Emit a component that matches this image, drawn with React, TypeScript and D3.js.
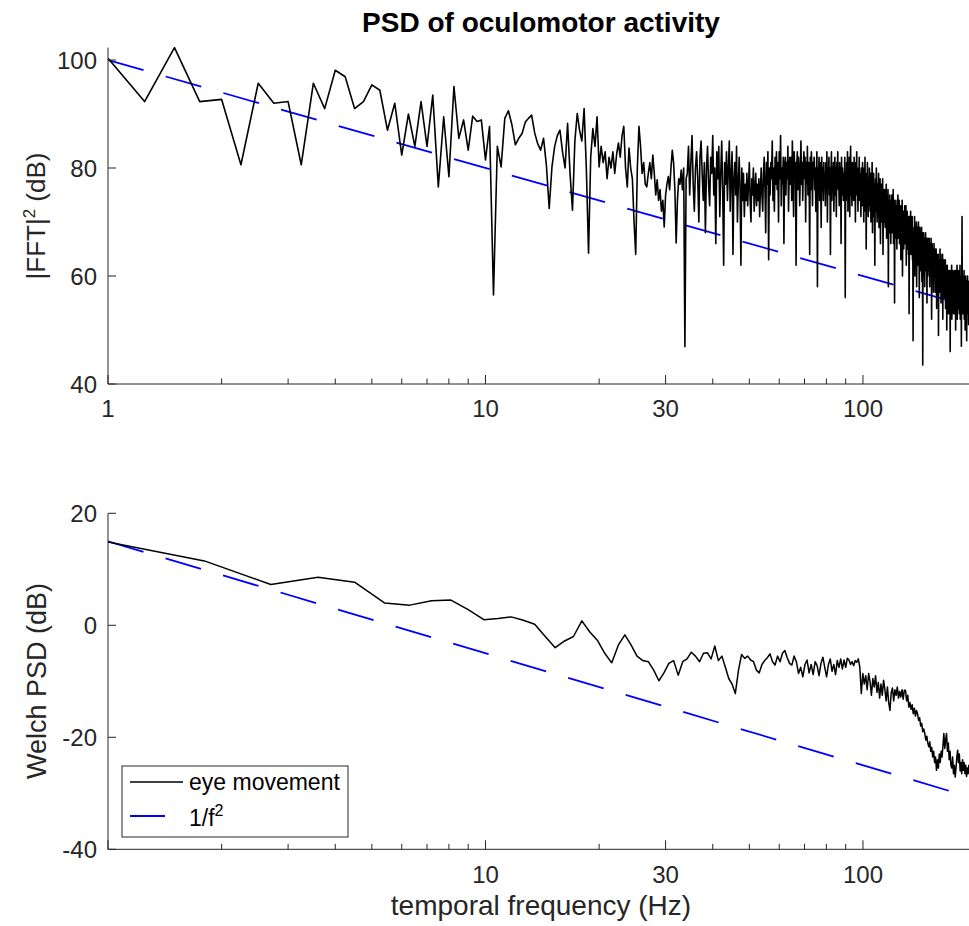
import React from 'react';
import * as d3 from 'd3';

// ---------- DATA ----------
// |FFT|^2 in dB, frequency grid starts at 1 Hz, step 0.25 Hz
const FFT_START = 1;
const FFT_STEP = 0.25;
const fftLow = [
  100.3, 92.3, 102.3, 92.3, 92.7, 80.6, 95.7, 92, 92.3, 80.6, 95.7, 91,
  98.1, 96.9, 91, 92.3, 95.4, 94.4, 87, 92, 82.4, 90, 84, 92.3, 84, 93.5,
  76.5, 89.5, 78.4, 95.1, 85.5, 88.9, 83.3, 89.6, 88.6, 88.9, 81.5, 87.7,
  56.5, 84, 80.2, 89.2, 90.6, 88, 84.3,
];
const fftMid = [
  85.5, 86.4, 88.5, 89.2, 89.8, 86.5, 84.5, 83.3, 85.5, 80.5, 72.5, 80.2, 84, 86, 87, 83, 80, 88.3, 79, 72.2,
  85, 90.1, 87, 85, 91, 80, 64.2, 82, 87.3, 84, 89.5, 80.2, 84, 81, 83, 78, 82, 80, 83, 79,
  82.5, 84.6, 82, 86, 87.7, 80, 76.5, 83.7, 80,
  78, 70, 64, 80, 87.7, 84, 79, 81, 77, 76.5, 79, 81, 78, 82.4, 79, 75, 77.8, 74, 76, 72,
  74, 69.1, 75, 77, 78.4, 76, 80, 83.3, 81, 76, 66.1, 74, 78, 77, 79.6, 76, 80, 46.9, 78,
];
const fftHigh = [
  79, 84, 75, 81, 86, 77, 72, 80, 83, 78, 70, 82, 85, 79, 74, 81, 68, 80, 84, 77,
  73, 82, 79, 86, 75, 80, 66, 83, 78, 84, 71, 79, 85, 76, 62, 81, 77, 83, 74, 80,
  85, 72, 79, 83, 64, 78, 81, 75, 84, 70, 77, 82, 76, 62, 80, 74, 79, 71, 77, 74,
  79, 73, 77, 81, 74, 70, 78, 75, 80, 72, 76, 79, 73, 77, 74, 78, 71, 76, 80, 75,
  72, 79, 82, 76, 68, 81, 77, 83, 63, 80, 75, 81, 78, 85, 74, 80, 72, 82, 77, 83,
  76, 81, 70, 83, 78, 86, 73, 80, 77, 82, 66, 80, 82, 75, 81, 78, 84, 72, 79, 82,
  77, 82, 74, 85, 79, 71, 83, 78, 81, 62, 80, 83, 76, 82, 79, 73, 80, 85, 77, 81,
  74, 80, 83, 78, 82, 70, 81, 77, 84, 75, 81, 79, 64, 82, 76, 83, 80, 73, 81, 78,
  82, 76, 80, 72, 79, 83, 58, 80, 77, 82, 74, 81, 78, 69, 82, 76, 80, 74, 81, 77,
  79, 73, 81, 76, 83, 70, 80, 77, 82, 75, 80, 64, 79, 83, 74, 80, 77, 81, 72, 79,
  82, 75, 80, 71, 81, 78, 83, 76, 79, 73, 81, 77, 80, 66, 82, 75, 80, 78, 74, 79,
  76, 82, 56, 79, 74, 81, 77, 83, 72, 80, 76, 82, 71, 79, 84, 75, 78, 73, 81, 77,
  80, 74, 82, 76, 79, 70, 81, 77, 83, 75, 78, 72, 80, 76, 82, 74, 79, 77, 71, 80,
  77, 73, 81, 75, 79, 70, 80, 76, 82, 72, 78, 65, 79, 74, 81, 76, 71, 78, 73, 80,
  76, 72, 79, 70, 77, 74, 81, 68, 76, 73, 79, 71, 77, 62, 75, 78, 72, 80, 74, 70,
  77, 71, 75, 79, 69, 76, 73, 78, 66, 74, 77, 70, 75, 72, 78, 64, 73, 76, 70, 74,
  76, 69, 74, 71, 77, 67, 73, 75, 70, 76, 58, 72, 74, 68, 75, 71, 73, 66, 74, 70,
  75, 68, 73, 70, 76, 66, 72, 74, 55, 71, 73, 67, 74, 69, 72, 65, 73, 70, 75, 67,
  72, 68, 74, 66, 71, 69, 73, 63, 70, 72, 67, 74, 60, 70, 68, 72, 65, 71, 69, 73,
  66, 71, 68, 73, 62, 70, 67, 72, 65, 69, 71, 64, 70, 53, 68, 71, 66, 69, 72, 64,
  68, 69, 66, 71, 63, 68, 48, 62, 67, 69, 65, 71, 60, 67, 64, 69, 66, 70, 58, 66,
  69, 64, 68, 62, 70, 65, 67, 56, 66, 69, 63, 68, 61, 67, 65, 69, 59, 66, 68, 43.5,
  66, 62, 68, 60, 65, 67, 58, 66, 63, 68, 61, 65, 64, 67, 55, 64, 66, 60, 67, 62,
  65, 61, 67, 63, 58, 66, 62, 65, 60, 67, 64, 52, 63, 66, 59, 65, 61, 64, 57, 63,
  66, 60, 64, 62, 65, 57, 63, 60, 65, 61, 54, 64, 59, 63, 62, 58, 64, 49, 61, 63,
  60, 63, 57, 65, 61, 58, 64, 55, 62, 60, 63, 56, 61, 64, 52, 60, 62, 58, 63, 59,
  62, 56, 61, 59, 63, 54, 60, 62, 57, 61, 50, 59, 62, 55, 60, 58, 61, 53, 60, 57,
  61, 55, 60, 58, 46, 59, 61, 54, 60, 57, 62, 52, 59, 56, 61, 55, 58, 60, 53, 59,
  57, 61, 53, 60, 58, 55, 61, 50, 59, 57, 60, 54, 58, 62, 52, 59, 56, 60, 54, 58,
  61, 55, 59, 53, 60, 57, 62, 52, 58, 60, 55, 59, 47, 57, 60, 71, 58, 56, 60, 53,
  58, 60, 54, 57, 61, 52, 59, 56, 58, 50, 57, 60, 53, 58, 55, 59, 48, 57, 54, 58,
  60, 53, 57, 55, 59, 51, 56, 58, 54, 57, 52, 58, 55, 57, 50, 56, 58, 53, 57, 55,
];
const fftPower = [...fftLow, ...fftMid, ...fftHigh];
const fftFreq = fftPower.map((_, i) => FFT_START + i * FFT_STEP);

// Welch PSD in dB, frequency grid k * 0.9 Hz
const WELCH_STEP = 0.9;
const welchPower = [
  15.5, 11.5, 7.3, 8.6, 7.7, 4.0, 3.6, 4.4, 4.5, 2.8,
  1.0, 1.2, 1.5, 0.9, 0.2, -2.0, -4.0, -2.8, -2.0, 0.8,
  -1.2, -2.7, -5.0, -6.7, -3.5, -1.7, -3.5, -5.5, -6.3, -6.5,
  -8.0, -9.9, -8.5, -6.8, -6.3, -8.9, -6.5, -6.0, -4.8, -5.5,
  -6.5, -5.0, -4.9, -6.0, -3.7, -6.3, -5.5, -7.5, -9.5, -10.5,
  -12.2, -8.0, -5.2, -5.9, -5.5, -6.2, -6.5, -8.0, -8.5, -7.0,
  -6.3, -5.8, -5.1, -6.5, -7.1, -5.5, -6.5, -5.0, -4.5, -5.8,
  -6.8, -7.1, -5.5, -6.5, -8.6, -7.5, -9.2, -7.0, -6.2, -8.5,
  -7.0, -8.8, -6.5, -7.2, -9.0, -6.8, -5.7, -7.5, -9.2, -7.0,
  -6.0, -8.2, -7.0, -8.8, -6.3, -7.5, -6.0, -7.8, -6.2, -7.5,
  -5.9, -6.2, -7.0, -6.5, -7.2, -6.3, -6.6, -6.0, -7.5, -12.2,
  -8.6, -10.5, -9.0, -11.5, -8.6, -10.0, -12.5, -9.5, -11.0, -9.0,
  -12.0, -10.2, -13.0, -10.5, -12.5, -9.8, -11.5, -13.5, -11.0, -13.8,
  -15.2, -12.0, -11.2, -13.5, -11.5, -12.5, -11.0, -13.0, -11.8, -12.8,
  -11.5, -13.2, -11.6, -11.6, -13.5, -12.5, -14.6, -13.8, -15.0, -14.2,
  -15.8, -14.8, -16.2, -15.2, -15.8, -17.0, -16.5, -18.0, -17.5, -19.0,
  -18.5, -19.3, -20.5, -19.8, -21.0, -21.7, -20.8, -22.5, -21.8, -23.5,
  -22.5, -24.5, -23.5, -25.9, -24.0, -25.5, -23.0, -24.5, -22.5, -23.5,
  -21.5, -19.3, -22.0, -20.5, -19.3, -22.5, -21.0, -24.0, -22.5, -25.0,
  -25.5, -23.5, -26.5, -25.0, -27.1, -25.5, -23.5, -22.3, -24.5, -23.0,
  -26.0, -24.5, -26.5, -24.0, -25.9, -24.5, -26.5, -25.0, -27.0, -25.5,
  -26.5, -25.0, -26.0, -25.5,
];
const welchFreq = welchPower.map((_, i) => (i + 1) * WELCH_STEP);

// 1/f^2 reference line endpoints
const refFreq = [1, 200];
const refTop = [100, 53.98];
const refBottom = [15, -31.02];

// ticks
const xMajorTicks = [1, 10, 30, 100];
const xMinorTicks = [2, 3, 4, 5, 6, 7, 8, 9, 20, 40, 50, 60, 70, 80, 90, 200];
const xTopLabels = ['1', '10', '30', '100'];
const xBottomLabels = ['', '10', '30', '100'];
const yTopTicks = [40, 60, 80, 100];
const yBottomTicks = [-40, -20, 0, 20];

const FONT = "'Liberation Sans', Arial, Helvetica, sans-serif";
const AX = '#262626';

export default function App() {
  const W = 969;
  const H = 926;
  const left = 108;
  const x = d3.scaleLog().domain([1, 200]).range([left, 976.6]);
  const yTop = d3.scaleLinear().domain([40, 100]).range([384, 60]);
  const yBot = d3.scaleLinear().domain([-40, 20]).range([849.3, 513.3]);
  const topMax = 102.3;

  const fftLine = d3
    .line<number>()
    .x((_, i) => x(fftFreq[i]))
    .y((d) => yTop(d));
  const welchLine = d3
    .line<number>()
    .x((_, i) => x(welchFreq[i]))
    .y((d) => yBot(d));
  const refLineTop = d3
    .line<number>()
    .x((_, i) => x(refFreq[i]))
    .y((d) => yTop(d));
  const refLineBot = d3
    .line<number>()
    .x((_, i) => x(refFreq[i]))
    .y((d) => yBot(d));

  const dash = '37 23';

  const renderXAxis = (y0: number, labels: string[], labelY: number) => (
    <g>
      <line x1={left} x2={W} y1={y0} y2={y0} stroke={AX} strokeWidth={1} />
      {xMajorTicks.map((t) => (
        <line key={'M' + t} x1={x(t)} x2={x(t)} y1={y0} y2={y0 - 9} stroke={AX} strokeWidth={1} />
      ))}
      {xMinorTicks.map((t) => (
        <line key={'m' + t} x1={x(t)} x2={x(t)} y1={y0} y2={y0 - 5.5} stroke={AX} strokeWidth={1} />
      ))}
      {xMajorTicks.map((t, i) =>
        labels[i] ? (
          <text key={'l' + t} x={x(t)} y={labelY} textAnchor="middle" fontSize={24} fill={AX} fontFamily={FONT}>
            {labels[i]}
          </text>
        ) : null
      )}
    </g>
  );

  const renderYAxis = (
    scale: d3.ScaleLinear<number, number>,
    ticks: number[],
    yTopPx: number,
    yBottomPx: number
  ) => (
    <g>
      <line x1={left} x2={left} y1={yTopPx} y2={yBottomPx} stroke={AX} strokeWidth={1} />
      {ticks.map((t) => (
        <g key={t}>
          <line x1={left} x2={left + 8} y1={scale(t)} y2={scale(t)} stroke={AX} strokeWidth={1} />
          <text x={97} y={scale(t)} dy="0.36em" textAnchor="end" fontSize={24} fill={AX} fontFamily={FONT}>
            {t}
          </text>
        </g>
      ))}
    </g>
  );

  return (
    <svg
      width={W}
      height={H}
      style={{ position: 'absolute', left: 0, top: 0, background: '#fff' }}
      fontFamily={FONT}
    >
      <defs>
        <clipPath id="clipTop">
          <rect x={left} y={yTop(topMax) - 2} width={W - left} height={384 - yTop(topMax) + 2} />
        </clipPath>
        <clipPath id="clipBot">
          <rect x={left} y={yBot(20)} width={W - left} height={yBot(-40) - yBot(20)} />
        </clipPath>
      </defs>
      <rect x={0} y={0} width={W} height={H} fill="#fff" />

      {/* Title */}
      <text x={541} y={32} textAnchor="middle" fontSize={28} fontWeight="bold" fill="#000">
        PSD of oculomotor activity
      </text>

      {/* Top panel */}
      <g clipPath="url(#clipTop)">
        <path d={refLineTop(refTop) || ''} fill="none" stroke="#0000ff" strokeWidth={1.8} strokeDasharray={dash} />
        <path d={fftLine(fftPower) || ''} fill="none" stroke="#000" strokeWidth={1.6} strokeLinejoin="round" />
      </g>
      {renderXAxis(384, xTopLabels, 417)}
      {renderYAxis(yTop, yTopTicks, yTop(topMax), 384)}
      <text transform="translate(45,216) rotate(-90)" textAnchor="middle" fontSize={26} fill={AX}>
        |FFT|
        <tspan dy={-10} fontSize={17}>
          2
        </tspan>
        <tspan dy={10}> (dB)</tspan>
      </text>

      {/* Bottom panel */}
      <g clipPath="url(#clipBot)">
        <path d={refLineBot(refBottom) || ''} fill="none" stroke="#0000ff" strokeWidth={1.8} strokeDasharray={dash} />
        <path d={welchLine(welchPower) || ''} fill="none" stroke="#000" strokeWidth={1.5} strokeLinejoin="round" />
      </g>
      {renderXAxis(849.3, xBottomLabels, 883)}
      {renderYAxis(yBot, yBottomTicks, yBot(20), 849.3)}
      <text transform="translate(46,681) rotate(-90)" textAnchor="middle" fontSize={27} fill={AX}>
        Welch PSD (dB)
      </text>
      <text x={541} y={915} textAnchor="middle" fontSize={28} fill={AX}>
        temporal frequency (Hz)
      </text>

      {/* Legend */}
      <g>
        <rect x={122} y={766} width={226} height={71} fill="#fff" stroke={AX} strokeWidth={1} />
        <line x1={130} x2={183} y1={782} y2={782} stroke="#000" strokeWidth={1.5} />
        <text x={189} y={790} fontSize={23} fill="#000">
          eye movement
        </text>
        <line x1={130} x2={183} y1={816} y2={816} stroke="#0000ff" strokeWidth={1.8} strokeDasharray="35 60" />
        <text x={189} y={826} fontSize={23} fill="#000">
          1/f
          <tspan dy={-10} fontSize={16}>
            2
          </tspan>
        </text>
      </g>
    </svg>
  );
}
